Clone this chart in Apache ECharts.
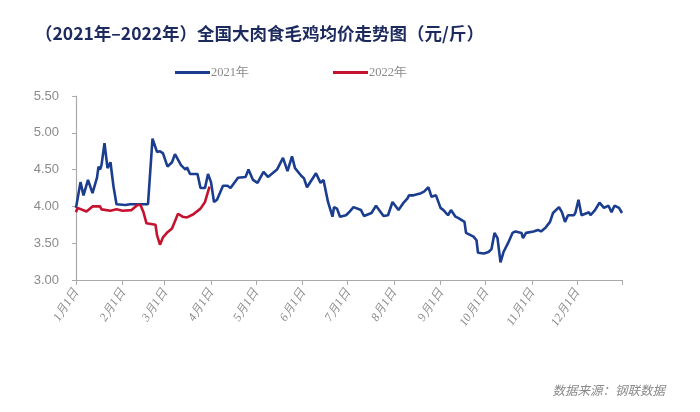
<!DOCTYPE html>
<html><head><meta charset="utf-8">
<script src="https://cdn.jsdelivr.net/npm/echarts@6/dist/echarts.min.js"></script>
<style>html,body{margin:0;padding:0;background:#fff}#c{width:700px;height:412px}</style>
</head><body><div id="c"></div>
<script>
// day-of-year index (0 = 1月1日) and values
const days2021 = [0,3,5,8,11,14,15,16,17,19,21,23,24,25,27,33,36,48,51,54,56,58,61,64,66,70,73,74,76,81,83,86,88,90,92,94,98,101,103,108,113,115,118,121,125,128,131,134,138,141,144,146,150,152,154,160,163,165,168,171,172,174,176,180,182,185,190,192,197,200,205,208,211,215,218,221,222,225,230,232,235,237,240,243,245,248,250,253,255,259,260,265,267,268,272,275,277,279,281,283,285,288,291,293,297,298,300,305,308,310,313,316,318,322,324,326,328,332,333,335,337,342,343,346,349,352,355,357,359,362,364];
const values2021 = [3.98,4.33,4.15,4.36,4.18,4.39,4.54,4.50,4.56,4.86,4.52,4.60,4.43,4.27,4.03,4.02,4.03,4.03,4.92,4.74,4.75,4.72,4.54,4.60,4.71,4.56,4.50,4.53,4.44,4.44,4.25,4.25,4.44,4.33,4.06,4.09,4.28,4.28,4.25,4.39,4.40,4.50,4.36,4.32,4.47,4.40,4.45,4.50,4.66,4.48,4.68,4.52,4.42,4.38,4.26,4.45,4.32,4.36,4.06,3.86,3.99,3.97,3.86,3.88,3.92,3.99,3.95,3.87,3.91,4.01,3.87,3.88,4.06,3.95,4.04,4.11,4.15,4.15,4.18,4.20,4.26,4.13,4.15,3.98,3.95,3.88,3.95,3.86,3.84,3.79,3.64,3.59,3.54,3.37,3.36,3.38,3.42,3.64,3.57,3.24,3.38,3.50,3.64,3.66,3.64,3.57,3.64,3.66,3.68,3.66,3.71,3.79,3.91,3.99,3.92,3.79,3.88,3.88,3.92,4.09,3.88,3.92,3.88,3.95,4.05,3.98,4.01,3.92,4.01,3.98,3.91];
const days2022 = [0,1,7,11,16,17,23,27,31,37,41,43,45,47,53,54,56,58,61,64,68,71,74,78,83,86,89];
const values2022 = [3.92,3.98,3.93,4.00,4.00,3.96,3.94,3.96,3.94,3.95,4.02,4.02,3.92,3.77,3.75,3.61,3.48,3.58,3.65,3.70,3.90,3.86,3.85,3.89,3.97,4.06,4.27];
const monthStarts = [0,31,59,90,120,151,181,212,243,273,304,334];
const monthLabels = ['1月1日','2月1日','3月1日','4月1日','5月1日','6月1日','7月1日','8月1日','9月1日','10月1日','11月1日','12月1日'];
const yTicks = [3.00,3.50,4.00,4.50,5.00,5.50];

const chart = echarts.init(document.getElementById('c'));
const pair = (d, v) => d.map((x, i) => [x, v[i]]);
chart.setOption({
  animation: false,
  title: [{
    text: '（2021年–2022年）全国大肉食毛鸡均价走势图（元/斤）',
    left: 30, top: 20,
    textStyle: {fontFamily: 'Noto Sans CJK SC', fontWeight: 'bold', fontSize: 17.5, color: '#1c2a5e'}
  }, {
    text: '数据来源：钢联数据',
    right: 30, top: 379,
    textStyle: {fontFamily: 'Noto Sans CJK SC', fontStyle: 'italic', fontWeight: 'normal', fontSize: 12.5, color: '#8a8a8a'}
  }],
  legend: {
    top: 61, left: 170, itemGap: 84, itemWidth: 35, itemHeight: 3,
    icon: 'rect',
    textStyle: {fontFamily: 'Liberation Serif', fontSize: 12.5, color: '#8a8a8a', padding: [0,0,0,-4]},
    data: ['2021年', '2022年']
  },
  grid: {left: 76, right: 78, top: 96, bottom: 132},
  xAxis: {
    type: 'value', min: 0, max: 364,
    splitLine: {show: false},
    axisLine: {lineStyle: {color: '#aaaaaa', width: 1.2}},
    axisTick: {show: true, length: 5, inside: false, customValues: monthStarts.concat([364]), lineStyle: {color: '#aaaaaa'}},
    axisLabel: {
      customValues: monthStarts, rotate: 57, margin: 10,
      fontFamily: 'Liberation Serif', fontStyle: 'italic', fontSize: 12, color: '#8a8a8a',
      formatter: v => monthLabels[monthStarts.indexOf(v)]
    }
  },
  yAxis: {
    type: 'value', min: 3, max: 5.5, interval: 0.5,
    splitLine: {show: false},
    axisLine: {show: true, lineStyle: {color: '#aaaaaa', width: 1.2}},
    axisTick: {show: true, length: 4, lineStyle: {color: '#aaaaaa'}},
    axisLabel: {
      margin: 17, fontFamily: 'Liberation Sans', fontSize: 13, color: '#8a8a8a',
      formatter: v => v.toFixed(2)
    }
  },
  series: [{
    name: '2021年', type: 'line', showSymbol: false, symbol: 'none',
    data: pair(days2021, values2021),
    lineStyle: {color: '#1b3d8f', width: 2.6}, itemStyle: {color: '#1b3d8f'}, z: 2
  }, {
    name: '2022年', type: 'line', showSymbol: false, symbol: 'none',
    data: pair(days2022, values2022),
    lineStyle: {color: '#c4122f', width: 2.6}, itemStyle: {color: '#c4122f'}, z: 3
  }]
});
</script></body></html>
